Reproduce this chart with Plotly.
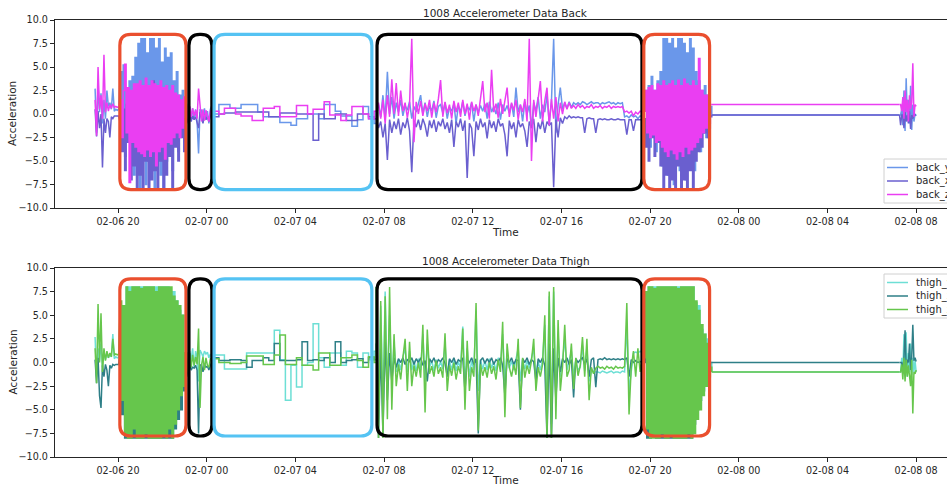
import pandas as pd
import plotly.graph_objects as go

# ---------------- time grid (sampling segments: start, step in minutes, count, line shape) ----------------
segments = [
    ("2020-02-06 18:58", 4, 17, "linear"),    # pre
    ("2020-02-06 20:06", 4, 45, "hv"),        # red 1 (very dense)
    ("2020-02-06 23:06", 4, 18, "linear"),    # black 1
    ("2020-02-07 00:18", 15, 30, "hv"),       # blue (step-like resting data)
    ("2020-02-07 07:39", 6, 121, "linear"),   # black 2
    ("2020-02-07 19:43", 4, 46, "hv"),        # red 2 (very dense)
    ("2020-02-07 22:47", 504, 2, "linear"),   # idle
    ("2020-02-08 07:15", 3, 16, "linear"),    # last burst
]

# ---------------- BACK sensor ----------------
back_y = (
    [2.7, -2.0, 3.0, 0.2, 2.2, -1.0, 1.5, -0.5, 2.5, 0.8, 1.2, 0.5, 2.7, 0.3, 0.5, 0.4, 0.5]
    + [4.5, -3.0, 5.2, -4.5, 2.5, -2.0, 3.5, -5.0, 4.0, -6.5, 6.0, -3.5, 7.5, -7.8, 8.0,
       -4.0, 8.0, -7.5, 6.5, -5.0, 8.0, -6.0, 8.0, -7.8, 7.0, -4.5, 8.0, -6.5, 5.5, -7.8,
       7.0, -5.0, 6.0, -3.5, 6.5, -6.0, 3.5, -2.5, 4.5, -4.0, 2.0, -1.5, 2.5, -3.0, 1.0]
    + [0.5, -0.8, 0.8, -0.5, 0.6, -0.6, 0.5, -0.8, -4.2, 0.5, 0.4, -0.9, 0.6, -0.6, 0.3, -1.0, 0.5, 0.9]
    + [0.0, 1.0, 1.0, 0.6, 0.6, 1.0, 1.0, 1.0, 0.2, -0.3, -0.3, -0.3, -0.9, -0.9, -1.2,
       -0.5, -0.5, 0.0, 0.0, -0.5, 1.0, 1.0, 0.3, -0.2, -0.2, -1.3, -0.6, 0.8, -0.5, -1.0]
    + [0.3, 1.0, -0.3, 2.0, -0.6, 4.5, 0.0, 1.8, -0.5, 1.2,
       0.2, 1.5, -0.2, 0.9, 0.4, 1.3, -0.5, 0.8, 0.2, 1.1,
       2.0, 0.0, 1.2, -0.3, 0.9, 0.3, 1.4, -0.4, 0.8, 1.0,
       0.1, 1.2, -0.5, 0.7, 0.3, 1.1, -1.0, 0.9, 0.2, 1.3,
       -0.2, 0.8, 0.4, 1.2, -0.8, 1.0, 0.1, 0.9, 0.3, 1.1,
       -0.5, 1.3, 0.2, 0.8, 0.0, 1.2, -0.6, 1.0, 0.3, 0.9,
       0.1, 1.1, -0.3, 2.8, 0.2, 1.0, -0.8, 1.3, 0.0, 0.9,
       -1.5, 1.2, 0.3, 1.8, -0.5, 1.0, 0.2, 2.0, -1.0, 1.3,
       8.0, -2.0, 1.0, 2.8, 0.5, 1.2, 0.6, 1.3, 0.7, 1.2,
       1.0, 1.2, 1.0, 1.3, 1.2, 1.0, 1.2, 1.3, 1.1, 1.2,
       1.2, 1.0, 1.2, 1.1, 1.2, 1.3, 1.1, 1.2, 1.0, 1.2,
       1.1, 1.2, -0.3, -0.2, -0.4, -0.1, -0.3, -0.2, -0.5, -0.2, -0.3]
    + [0.5, 2.5, -2.0, 3.0, -3.5, 4.0, -1.5, 2.5, -4.0, 3.5, -3.0, 4.5, -5.5,
       8.0, -4.0, 8.0, -6.5, 7.5, -5.0, 8.0, -7.5, 7.0, -3.0, 8.0, -6.0, 8.0, -4.5, 7.5,
       -7.0, 6.5, -3.5, 8.0, -5.0, 7.0,
       -6.0, 4.5, -2.5, 3.5, -4.0, 2.5, -2.0, 3.0, -2.5, 2.0, -1.5, 0.8]
    + [-0.1, -0.1]
    + [-0.1, -0.1, 0.5, -1.2, 2.5, -1.8, 3.8, -0.5, 1.5, -1.0, 3.0, -1.7, 1.0, -0.8, 0.0, -0.2]
)

back_x = (
    [0.5, -2.4, 0.3, -1.5, 0.0, -5.7, -0.5, -2.0, -0.5, -0.8, -2.5, -0.3, -0.5, -0.2, -0.2, -0.2, -0.2]
    + [-1.0, -4.0, 0.5, -6.0, 1.0, -3.0, 0.5, -7.0, 1.5, -5.5, 2.0, -7.8, 1.0, -6.5, 2.5,
       -7.8, 1.5, -5.0, 3.0, -7.8, 2.0, -7.0, 3.5, -6.0, 1.5, -7.8, 2.5, -5.0, 2.0, -7.8,
       1.0, -6.5, 1.5, -4.5, 2.0, -7.8, 1.0, -3.5, 0.5, -5.0, 0.5, -2.5, 0.3, -4.0, -0.5]
    + [-0.3, -1.0, 0.3, -0.8, -0.2, -0.6, -0.3, -0.8, -1.5, 0.2, -0.6, -1.0, 0.0, -0.6, -0.3, -0.8, -0.2, 0.0]
    + [-0.3, 0.0, 0.1, 0.1, 0.2, 0.2, 0.2, 0.2, 0.2, 0.2, -0.3, -0.3, 0.1, 0.1, 0.1,
       0.0, 0.0, 0.0, -2.8, 0.0, -0.5, -0.5, 0.0, 0.0, -0.7, -0.7, 0.0, 0.0, -0.3, -0.5]
    + [-0.5, -1.5, -0.8, -2.5, -1.0, -4.9, -0.6, -2.0, -0.8, -1.6,
       -0.5, -2.2, -0.9, -1.5, -0.4, -1.8, -6.2, -0.7, -1.4, -0.6,
       -1.7, -0.5, -1.2, -2.4, -0.7, -1.5, -0.6, -1.9, -0.8, -1.3,
       -0.5, -1.6, -0.9, -2.0, -0.6, -3.5, -0.8, -1.4, -0.5, -1.8,
       -0.7, -6.8, -1.0, -1.5, -4.5, -0.8, -1.7, -0.5, -1.4, -0.9,
       -2.6, -0.6, -1.5, -0.8, -1.9, -0.5, -1.3, -1.0, -2.2, -4.5,
       -0.7, -1.6, -0.9, -2.5, -0.6, -1.4, -1.0, -1.8, -3.5, -0.8,
       -1.5, -0.5, -3.0, -0.9, -1.6, -0.6, -2.0, -0.8, -1.2, -0.9,
       -7.8, -0.6, -2.5, -0.4, -1.0, -0.3, -0.5, -0.2, -0.4, -0.3,
       -0.4, -0.3, -0.4, -0.4, -2.0, -0.5, -0.4, -0.5, -0.5, -2.0,
       -0.6, -0.5, -0.6, -0.5, -0.6, -0.6, -0.5, -0.6, -0.6, -0.5,
       -0.6, -0.6, -0.6, -2.2, -0.6, -0.6, -1.8, -0.6, -0.6, -0.6, -0.6]
    + [-0.5, -3.5, 0.5, -5.0, 0.8, -2.5, 0.5, -4.5, 1.0, -3.0, 0.5, -5.5, 1.5,
       -7.8, 2.0, -6.5, 1.0, -7.8, 2.5, -7.0, 1.5, -7.8, 2.0, -5.5, 3.0, -7.8, 1.5, -7.0,
       2.5, -7.8, 1.0, -6.0, 2.0, -7.8,
       1.5, -5.0, 1.0, -4.0, 0.5, -3.5, 0.5, -2.0, 0.8, -2.5, 0.3, -0.3]
    + [-0.1, -0.1]
    + [-0.1, -1.2, -0.1, -0.1, -1.5, 0.2, -0.8, -0.1, -1.0, 0.3, -1.6, -0.1, -0.5, 0.0, -0.1, -0.1]
)

back_z = (
    [1.5, -2.3, 5.0, 0.5, 2.0, -0.5, 6.3, 0.2, 1.2, 0.3, 1.0, 0.6, 1.1, 0.7, 0.8, 0.7, 0.8]
    + [1.5, -2.5, 2.5, 5.3, -2.0, 2.8, -7.3, 2.5, -3.0, 3.2, -3.5, 3.2, -4.0, 3.5, -4.2,
       3.0, -4.5, 3.8, -3.8, 3.0, -4.5, 3.5, -4.0, 3.2, -5.5, 3.0, -4.0, 3.5, -3.5, 2.8,
       -4.8, 3.0, -3.0, 2.5, -3.2, 3.0, -2.5, 2.2, -2.0, 2.0, -2.5, 1.5, -1.5, 1.8, 0.8]
    + [0.5, -0.5, 0.8, -0.3, 0.6, -0.2, 0.4, -0.5, 2.7, 0.4, -0.8, 0.5, -0.7, 0.4, -0.4, -0.8, 0.3, 0.3]
    + [0.3, 0.0, 0.6, 0.6, 0.0, -0.2, -0.2, -0.7, -0.7, 0.6, 0.6, 0.8, -0.3, -0.3, -0.3,
       0.9, 0.9, 0.0, 0.5, 0.5, 1.3, -0.1, -0.1, -0.7, -0.1, 0.8, 0.8, 0.0, -0.5, 0.3]
    + [0.2, 1.2, -0.5, 1.5, -1.0, 2.0, -0.3, 3.7, 0.0, 3.3,
       -0.2, 2.5, 0.3, 1.2, -0.4, 1.0, 8.0, -3.0, 1.3, 0.0,
       1.4, -0.2, 1.1, 0.3, 1.5, -0.4, 1.2, 0.2, 1.6, 3.6,
       -0.3, 1.3, 0.1, 1.0, -0.5, 1.4, 0.2, 1.2, -0.3, 1.5,
       0.0, 1.1, -0.6, 1.3, 0.3, 1.0, -0.2, 1.4, 3.5, 0.2,
       1.2, -0.5, 4.7, 0.2, 1.1, -0.4, 1.6, 0.0, 1.3, 2.8,
       -0.3, 1.2, 0.4, 1.5, -0.6, 1.0, 0.2, 1.6, -0.8, 8.0,
       -5.0, 1.5, -0.3, 1.8, 3.5, -0.8, 1.4, 2.8, -1.2, 1.6,
       -0.5, 1.8, -0.8, 1.2, 0.0, 1.3, 0.5, 1.2, 0.6, 0.9,
       0.6, 1.0, 0.7, 0.9, 0.6, 0.8, 0.7, 1.0, 0.6, 0.8,
       0.7, 0.9, 0.6, 0.8, 0.7, 0.9, 0.6, 0.8, 0.7, 0.8,
       0.7, 0.8, 0.2, 0.3, 0.1, 0.3, -0.2, 0.2, 0.0, 0.3, 0.2]
    + [0.3, 2.5, -2.0, 2.8, -2.5, 3.0, -2.2, 2.5, -3.0, 3.2, -2.8, 3.0, -3.5,
       3.5, -4.0, 3.0, -4.5, 3.2, -3.8, 3.5, -4.2, 3.0, -4.8, 3.6, -4.0, 3.0, -4.5, 3.7,
       -3.5, 3.2, -4.2, 3.0, -3.8, 3.5,
       -3.5, 3.0, -3.0, 5.9, -2.5, 2.5, -2.0, 2.0, -1.5, 2.0, -1.0, 1.0]
    + [1.0, 1.0]
    + [1.0, 1.0, 0.3, 1.8, -0.5, 2.5, 0.2, 1.5, -0.8, 2.0, 0.5, 1.2, 5.4, -0.3, 1.0, 0.8]
)

# ---------------- THIGH sensor ----------------
thigh_y = (
    [2.7, -1.5, 1.5, 0.2, 2.0, -0.5, 1.2, 0.3, 1.0, 0.5, 0.8, 0.6, 3.0, 0.4, 0.6, 0.5, 0.6]
    + [6.0, -3.0, 5.5, -6.0, 8.0, -6.5, 8.0, -7.0, 8.0, -6.0, 8.0, -7.5, 8.0, -6.5, 8.0,
       -7.0, 8.0, -6.0, 8.0, -7.0, 8.0, -6.5, 8.0, -7.0, 8.0, -7.5, 8.0, -6.0, 8.0, -7.0,
       8.0, -6.5, 8.0, -6.0, 7.5, -7.0, 7.5, -5.5, 6.5, -4.5, 5.5, -3.0, 5.0, -2.0, 1.0]
    + [0.8, -0.5, 1.2, 0.3, 1.5, -0.5, 1.2, 0.6, -2.0, 1.3, 1.0, 0.6, 1.2, 0.9, 1.1, 0.5, 0.9, 0.3]
    + [0.8, 0.8, -0.7, -0.7, -0.7, -0.7, 1.0, 1.0, 1.0, 1.0, 1.0, 3.4, 0.3, -4.0, -0.3,
       -2.6, -0.3, 0.0, 4.1, 0.5, -0.5, 1.0, 1.0, -0.3, 1.2, 1.0, -0.5, 1.0, 0.3, 1.2]
    + [8.0, -6.0, 6.0, -5.0, 7.5, -3.0, 5.0, -2.0, 2.0, -1.0,
       0.3, -0.8, 0.6, 1.5, -1.0, 1.2, -0.8, 0.2, -0.9, 0.4,
       -0.8, 3.0, -2.0, 2.0, -0.5, 0.2, -0.9, 0.3, -0.6, 0.1,
       -0.7, 2.0, -1.5, 0.2, -0.8, 0.4, -0.9, 0.1, -0.6, 3.8,
       -2.5, 1.5, -1.5, 0.2, -0.8, 5.5, -3.0, 0.3, -0.7, 0.2,
       -0.8, 0.4, -0.6, 0.1, -0.9, 0.5, -0.5, 3.0, -2.0, 1.0,
       -0.6, 0.2, -0.8, 0.3, 1.5, -2.0, 0.3, -0.7, 0.2, -0.6,
       0.4, 1.5, -1.5, 0.1, -0.8, 0.3, 4.0, -6.0, 7.0, -6.5,
       7.5, -4.0, 3.0, -1.5, 0.2, 2.5, -0.8, 0.3, 1.2, -1.5,
       0.2, -0.8, -0.5, 1.8, -0.9, 1.5, -2.0, -1.0, -0.9, -1.0,
       -1.0, -1.1, -0.9, -1.0, -1.1, -1.0, -0.9, -1.1, -1.0, -1.0,
       -1.1, -0.9, -1.0, 4.0, -3.0, -1.0, 1.0, 1.1, 1.0, 1.2, 1.0]
    + [0.5, 7.5, -6.0, 8.0, -7.0, 8.0, -6.5, 8.0, -7.0, 8.0, -6.0, 8.0, -7.0,
       8.0, -6.5, 8.0, -7.0, 8.0, -6.0, 8.0, -7.0, 8.0, -6.5, 8.0, -7.0, 8.0, -6.0, 8.0,
       -7.0, 8.0, -6.5, 8.0, -7.0, 8.0,
       -6.0, 6.3, -5.0, 6.0, -4.0, 3.5, -3.0, 3.0, -2.0, 2.5, -1.0, 0.0]
    + [-1.0, -1.0]
    + [-1.0, -1.0, 0.5, -1.2, 3.0, -0.5, 3.2, -1.5, 1.0, -1.0, 2.0, -1.3, 0.5, -1.0, 0.2, -1.0]
)

thigh_x = (
    [0.3, -2.2, 0.5, -3.5, -4.8, -0.3, -1.5, -0.2, -0.8, -2.5, -0.3, -0.6, -0.2, -0.3, -0.2, -0.2, -0.2]
    + [1.5, -5.5, 2.0, -8.0, 3.0, -8.0, 2.5, -8.0, 3.5, -8.0, 2.0, -8.0, 3.0, -8.0, 2.5,
       -8.0, 3.0, -8.0, 2.0, -8.0, 3.5, -8.0, 2.5, -8.0, 3.0, -8.0, 2.0, -8.0, 2.5, -8.0,
       3.0, -8.0, 2.0, -8.0, 2.5, -8.0, 2.0, -7.0, 1.5, -6.0, 1.0, -5.0, 1.0, -3.0, 0.0]
    + [-0.3, -1.5, 0.0, -0.8, -0.5, -0.6, -0.3, -0.8, -7.5, -0.3, -0.2, -1.0, -0.2, -0.5, -0.4, -0.8, -0.3, 0.0]
    + [0.5, 0.2, 0.2, 0.3, 0.3, 0.2, -0.5, 0.2, 0.2, 0.5, 0.2, 2.0, 0.2, 0.2, 0.2,
       0.3, 2.2, 0.2, 0.3, 0.2, 0.5, 0.0, 2.2, 0.0, 0.2, 0.3, 0.4, 0.0, 0.5, 0.3]
    + [2.0, -8.0, 1.5, -7.5, 2.5, -4.0, 1.0, -2.0, 0.5, -0.5,
       0.4, 0.0, 0.5, -0.2, 0.3, 0.1, 0.5, -0.2, 0.4, 0.0,
       0.5, -0.3, 0.2, -2.0, 0.4, 0.0, 0.5, -0.2, 0.3, 0.1,
       0.5, -0.1, -1.5, 0.4, 0.0, 0.5, -0.2, 0.3, 0.1, 0.5,
       -3.0, 0.3, 0.0, 0.5, -0.2, 0.4, -7.5, 0.2, 0.5, -0.1,
       0.4, 0.0, 0.5, -0.2, 0.3, 0.1, 0.5, -0.3, -3.5, 0.4,
       0.0, 0.5, -0.2, 0.3, 0.2, -5.0, 0.4, 0.0, 0.5, -0.2,
       0.3, 0.1, -2.0, 0.4, 0.0, 0.5, -0.3, -8.0, 2.0, -8.0,
       1.5, -4.0, 0.5, -1.0, 0.4, 0.0, 0.5, -0.2, 0.3, -3.7,
       0.4, 0.0, 0.3, 0.5, -0.2, 0.4, -1.5, 0.3, 0.5, -2.6,
       0.3, 0.4, 0.3, 0.5, 0.3, 0.4, 0.3, 0.4, 0.3, 0.4,
       0.3, 0.4, 0.3, 0.5, -1.5, 0.3, 0.0, 0.2, 0.0, 0.1, 0.0]
    + [0.0, 3.0, -8.0, 2.0, -8.0, 3.0, -7.5, 2.5, -8.0, 2.0, -8.0, 3.0, -8.0,
       2.0, -8.0, 3.0, -8.0, 2.5, -8.0, 2.0, -8.0, 3.0, -8.0, 2.5, -8.0, 2.0, -8.0, 3.0,
       -8.0, 2.5, -8.0, 2.0, -8.0, 2.0,
       -6.5, 2.0, -5.0, 1.5, -4.0, 1.0, -3.0, 1.5, -2.0, 0.5, -1.0, 0.0]
    + [0.0, 0.0]
    + [0.0, 0.0, 0.0, -1.0, 0.5, 3.4, -0.5, 0.3, 0.0, 2.0, -0.8, 0.5, 4.0, 0.2, 0.5, 0.1]
)

thigh_z = (
    [1.5, -2.2, 6.2, 0.0, 5.2, -1.0, 1.5, 0.2, 1.2, 0.5, 1.0, 0.6, 2.5, 0.8, 0.9, 0.8, 0.9]
    + [6.5, -4.0, 6.0, -7.5, 8.0, -8.0, 7.5, -8.0, 8.0, -7.0, 8.0, -8.0, 8.0, -8.0, 7.8,
       -8.0, 8.0, -7.5, 8.0, -8.0, 8.0, -8.0, 8.0, -8.0, 7.5, -8.0, 8.0, -8.0, 8.0, -7.8,
       8.0, -8.0, 8.0, -7.0, 8.0, -8.0, 7.0, -6.5, 6.5, -5.0, 6.0, -3.5, 5.0, -2.5, 1.0]
    + [0.5, -1.0, 1.0, -0.5, 0.8, -0.3, 0.6, -0.2, 3.6, -4.8, -0.3, 0.6, -0.8, 0.5, -0.3, -0.5, 0.4, 0.3]
    + [0.4, 0.0, 0.0, -0.1, -0.1, 0.0, 0.7, 0.7, 0.7, -0.2, -0.2, 0.8, 2.9, -0.2, -0.2,
       0.5, -0.3, -0.3, -0.8, 1.0, 1.0, -0.3, -0.3, 0.5, 0.5, 0.8, 0.2, -0.5, 0.6, 0.0]
    + [8.0, -8.0, 6.5, -8.0, 7.0, -6.0, 8.0, -5.0, 3.0, -2.5,
       -0.2, -1.8, 0.5, 2.5, -3.0, 2.2, -2.5, -0.3, -1.5, 0.0,
       -1.6, 4.0, -5.3, 3.5, -1.2, -0.4, -1.5, 0.2, -1.2, -0.5,
       -1.6, 3.1, -3.0, -0.3, -1.4, 0.0, -1.8, -0.4, -1.2, 3.6,
       -5.0, 2.3, -3.0, -0.5, -1.5, 6.3, -7.2, -0.2, -1.4, -0.5,
       -1.6, 0.0, -1.2, -0.4, -1.8, 0.3, -1.0, 4.3, -5.8, 2.0,
       -0.5, -1.5, -0.2, -1.3, 2.5, -4.8, 0.5, -1.6, -0.3, -1.2,
       0.2, 2.5, -3.0, -0.5, -1.5, -0.2, 5.0, -8.0, 7.5, -8.0,
       8.0, -6.0, 4.5, -3.0, -0.5, 4.0, -1.5, -0.8, 2.0, -2.8,
       0.5, -1.4, -0.3, 2.7, -1.5, 2.5, -4.0, -0.5, -1.2, -0.6,
       -0.4, -0.6, -0.5, -0.7, -0.4, -0.6, -0.5, -0.7, -0.4, -0.6,
       -0.5, -0.6, -0.4, 6.3, -5.5, -0.5, 1.2, -1.5, 1.5, -1.0, 0.8]
    + [0.5, 7.5, -7.0, 8.0, -8.0, 8.0, -8.0, 7.8, -8.0, 8.0, -8.0, 8.0, -7.5,
       8.0, -8.0, 8.0, -8.0, 8.0, -7.8, 8.0, -8.0, 8.0, -8.0, 7.8, -8.0, 8.0, -8.0, 8.0,
       -8.0, 8.0, -7.5, 8.0, -8.0, 8.0,
       -7.5, 6.5, -6.0, 5.5, -5.0, 4.0, -3.5, 3.0, -2.5, 2.0, -1.5, -0.5]
    + [-1.0, -1.0]
    + [-1.0, -1.0, -0.2, -1.8, 0.5, -2.0, 0.3, -1.5, -0.3, -1.2, -2.5, 0.3, -5.4, -1.0, -1.2, -0.8]
)

# highlight boxes: (start, end, colour)
highlight_boxes = [
    ("2020-02-06 20:05", "2020-02-06 23:04", "#ea4f2e"),
    ("2020-02-06 23:12", "2020-02-07 00:14", "#000000"),
    ("2020-02-07 00:20", "2020-02-07 07:27", "#55c3f3"),
    ("2020-02-07 07:41", "2020-02-07 19:38", "#000000"),
    ("2020-02-07 19:43", "2020-02-07 22:41", "#ea4f2e"),
]
box_value_span = {"top": (8.47, -8.04), "bottom": (8.84, -7.78)}

# ---------------- build time axis ----------------
times = []
bounds = []
for start, step, n, shape in segments:
    a = len(times)
    times.extend(pd.date_range(start, periods=n, freq=f"{step}min"))
    bounds.append((a, len(times), shape))
for name, arr in [("back_y", back_y), ("back_x", back_x), ("back_z", back_z),
                  ("thigh_y", thigh_y), ("thigh_x", thigh_x), ("thigh_z", thigh_z)]:
    assert len(arr) == len(times), (name, len(arr), len(times))

# ---------------- layout geometry ----------------
W, H = 947, 485
ML, MR, MT, MB = 55, 0, 20, 28
PW, PH = W - ML - MR, H - MT - MB
top_dom = [(457 - 208) / PH, 1.0]
bot_dom = [0.0, (457 - 268) / PH]
x_left = pd.Timestamp("2020-02-06 17:09:30")
x_right = pd.Timestamp("2020-02-08 09:23:30")

FONT = "DejaVu Sans"
TXT = "#262626"

fig = go.Figure()

def add(y, name, color, xa, ya):
    for a, b, shape in bounds:
        b2 = min(b + 1, len(times))  # connect to the next segment
        fig.add_trace(go.Scatter(
            x=times[a:b2], y=y[a:b2], name=name, mode="lines",
            line=dict(color=color, width=1.5, shape=shape),
            xaxis=xa, yaxis=ya, showlegend=False, hoverinfo="x+y+name"))

series = [
    ("back_y", back_y, "#6a97ea", "x", "y"),
    ("back_x", back_x, "#6a5fcf", "x", "y"),
    ("back_z", back_z, "#ea3ef2", "x", "y"),
    ("thigh_y", thigh_y, "#6ddfd5", "x2", "y2"),
    ("thigh_x", thigh_x, "#2e7f87", "x2", "y2"),
    ("thigh_z", thigh_z, "#66c64c", "x2", "y2"),
]
for name, arr, col, xa, ya in series:
    add(arr, name, col, xa, ya)

xax = dict(type="date", range=[x_left, x_right], tickformat="%m-%d %H",
           tick0="2020-02-06 20:00", dtick=4 * 3600 * 1000,
           ticks="outside", ticklen=4, tickwidth=1, tickcolor=TXT,
           showline=True, linecolor=TXT, linewidth=1.2, mirror=True,
           showgrid=False, zeroline=False,
           tickfont=dict(family=FONT, size=9.6, color=TXT))
yax = dict(range=[-10, 10], tick0=0, dtick=2.5, tickformat=".1f",
           ticks="outside", ticklen=4, tickwidth=1, tickcolor=TXT,
           showline=True, linecolor=TXT, linewidth=1.2,
           showgrid=False, zeroline=False,
           tickfont=dict(family=FONT, size=9.6, color=TXT))

fig.update_layout(
    width=W, height=H, paper_bgcolor="white", plot_bgcolor="white",
    margin=dict(l=ML, r=MR, t=MT, b=MB, autoexpand=False),
    xaxis=dict(xax, domain=[0, 1], anchor="y"),
    yaxis=dict(yax, domain=top_dom, anchor="x"),
    xaxis2=dict(xax, domain=[0, 1], anchor="y2"),
    yaxis2=dict(yax, domain=bot_dom, anchor="x2"),
    showlegend=False,
    font=dict(family=FONT, color=TXT),
)

def px_x(p):
    return (p - ML) / PW

def px_y(p):
    return (457 - p) / PH

annos = [
    ("1008 Accelerometer Data Back", px_x(506), px_y(13), 0),
    ("1008 Accelerometer Data Thigh", px_x(506), px_y(261), 0),
    ("Time", px_x(505), px_y(232), 0),
    ("Time", px_x(505), px_y(480), 0),
    ("Acceleration", px_x(12), px_y(114), -90),
    ("Acceleration", px_x(12), px_y(362.5), -90),
]
for text, ax, ay, ang in annos:
    fig.add_annotation(text=text, x=ax, y=ay, xref="paper", yref="paper", showarrow=False,
                       textangle=ang, xanchor="center", yanchor="middle",
                       font=dict(family=FONT, size=10.5, color=TXT))

# legend boxes (matplotlib-style, clipped at the right edge like the reference)
legend_groups = [(series[:3], 159), (series[3:], 274)]
for items, top in legend_groups:
    fig.add_shape(type="rect", xref="paper", yref="paper",
                  x0=px_x(884), x1=px_x(1000), y0=px_y(top + 44), y1=px_y(top),
                  line=dict(color="#d0d0d0", width=1), fillcolor="rgba(255,255,255,0.85)",
                  layer="above")
    for k, (name, arr, col, xa, ya) in enumerate(items):
        yy = top + 8.5 + 13.5 * k
        fig.add_shape(type="line", xref="paper", yref="paper",
                      x0=px_x(887), x1=px_x(908), y0=px_y(yy), y1=px_y(yy),
                      line=dict(color=col, width=1.5), layer="above")
        fig.add_annotation(text=name, x=px_x(914), y=px_y(yy), xref="paper", yref="paper",
                           showarrow=False, xanchor="left", yanchor="middle",
                           font=dict(family=FONT, size=10, color=TXT))

# rounded highlight boxes (converted from time / value into paper coords)
span = (x_right - x_left).total_seconds()
R = 11.0
rx, ry = R / PW, R / PH
for key, dom in (("top", top_dom), ("bottom", bot_dom)):
    vtop, vbot = box_value_span[key]
    y1 = dom[0] + (vtop + 10) / 20 * (dom[1] - dom[0])
    y0 = dom[0] + (vbot + 10) / 20 * (dom[1] - dom[0])
    for s, e, col in highlight_boxes:
        x0 = (pd.Timestamp(s) - x_left).total_seconds() / span
        x1 = (pd.Timestamp(e) - x_left).total_seconds() / span
        path = (f"M {x0+rx},{y1} L {x1-rx},{y1} Q {x1},{y1} {x1},{y1-ry} "
                f"L {x1},{y0+ry} Q {x1},{y0} {x1-rx},{y0} L {x0+rx},{y0} "
                f"Q {x0},{y0} {x0},{y0+ry} L {x0},{y1-ry} Q {x0},{y1} {x0+rx},{y1} Z")
        fig.add_shape(type="path", path=path, xref="paper", yref="paper",
                      line=dict(color=col, width=3.2), layer="above")

fig.write_html("out.html")
